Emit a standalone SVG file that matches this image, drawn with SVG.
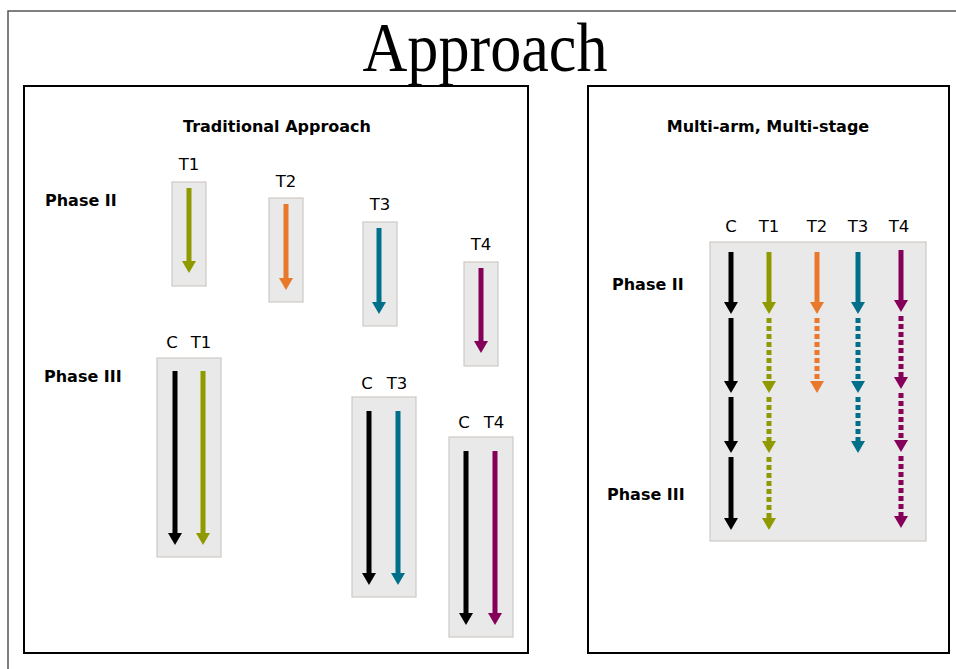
<svg xmlns="http://www.w3.org/2000/svg" width="956" height="669" viewBox="0 0 956 669">
<style>
.frame{fill:none;stroke:#555;stroke-width:1.5}
.panel{fill:#fff;stroke:#000;stroke-width:2}
.box{fill:#e9e9e9;stroke:#cdc8c4;stroke-width:1.2}
.title{font-family:"Liberation Serif",serif;font-size:70px;fill:#000}
.hd{font-family:"DejaVu Sans",sans-serif;font-weight:bold;font-size:16px;fill:#000}
.lbl{font-family:"DejaVu Sans",sans-serif;font-size:16.5px;fill:#000}
.sol{stroke-width:5;fill:none}
.dot{stroke-width:5;fill:none;stroke-dasharray:5 3}
.k{stroke:#000}.o{stroke:#8f9a00}.r{stroke:#e8782a}.t{stroke:#00708a}.p{stroke:#850058}
</style>
<defs>
<marker id="mk" markerUnits="userSpaceOnUse" markerWidth="13" markerHeight="14" refX="0" refY="7" orient="auto"><path d="M0,0L12,7L0,14z" fill="#000"/></marker>
<marker id="mo" markerUnits="userSpaceOnUse" markerWidth="13" markerHeight="14" refX="0" refY="7" orient="auto"><path d="M0,0L12,7L0,14z" fill="#8f9a00"/></marker>
<marker id="mr" markerUnits="userSpaceOnUse" markerWidth="13" markerHeight="14" refX="0" refY="7" orient="auto"><path d="M0,0L12,7L0,14z" fill="#e8782a"/></marker>
<marker id="mt" markerUnits="userSpaceOnUse" markerWidth="13" markerHeight="14" refX="0" refY="7" orient="auto"><path d="M0,0L12,7L0,14z" fill="#00708a"/></marker>
<marker id="mp" markerUnits="userSpaceOnUse" markerWidth="13" markerHeight="14" refX="0" refY="7" orient="auto"><path d="M0,0L12,7L0,14z" fill="#850058"/></marker>
</defs>
<rect width="956" height="669" fill="#fff"/>
<rect class="frame" x="8" y="11" width="970" height="680"/>
<text class="title" x="485" y="71" text-anchor="middle" textLength="245" lengthAdjust="spacingAndGlyphs">Approach</text>

<g id="traditional">
<rect class="panel" x="24" y="86" width="504" height="567"/>
<text class="hd" x="277" y="132" text-anchor="middle">Traditional Approach</text>
<text class="hd" x="45" y="206">Phase II</text>
<text class="hd" x="44" y="382">Phase III</text>
</g>

<g id="trad-t1">
<rect class="box" x="172" y="182" width="34" height="104"/>
<text class="lbl" x="189" y="170" text-anchor="middle">T1</text>
</g>
<g id="trad-t2">
<rect class="box" x="269" y="198" width="34" height="104"/>
<text class="lbl" x="286" y="187" text-anchor="middle">T2</text>
</g>
<g id="trad-t3">
<rect class="box" x="363" y="222" width="34" height="104"/>
<text class="lbl" x="380" y="210" text-anchor="middle">T3</text>
</g>
<g id="trad-t4">
<rect class="box" x="464" y="262" width="34" height="104"/>
<text class="lbl" x="481" y="250" text-anchor="middle">T4</text>
</g>
<g id="trad-ct1">
<rect class="box" x="157" y="358" width="64" height="199"/>
<text class="lbl" x="172" y="348" text-anchor="middle">C</text>
<text class="lbl" x="201" y="348" text-anchor="middle">T1</text>
</g>
<g id="trad-ct3">
<rect class="box" x="352" y="397" width="64" height="200"/>
<text class="lbl" x="367" y="389" text-anchor="middle">C</text>
<text class="lbl" x="397" y="389" text-anchor="middle">T3</text>
</g>
<g id="trad-ct4">
<rect class="box" x="449" y="437" width="64" height="200"/>
<text class="lbl" x="464" y="428" text-anchor="middle">C</text>
<text class="lbl" x="494" y="428" text-anchor="middle">T4</text>
</g>

<g id="mams">
<rect class="panel" x="588" y="86" width="361" height="567"/>
<text class="hd" x="768" y="132" text-anchor="middle">Multi-arm, Multi-stage</text>
<text class="hd" x="612" y="290">Phase II</text>
<text class="hd" x="607" y="500">Phase III</text>
</g>
<g id="mams-grid">
<rect class="box" x="710" y="242" width="216" height="299"/>
<text class="lbl" x="731" y="232" text-anchor="middle">C</text>
<text class="lbl" x="769" y="232" text-anchor="middle">T1</text>
<text class="lbl" x="817" y="232" text-anchor="middle">T2</text>
<text class="lbl" x="858" y="232" text-anchor="middle">T3</text>
<text class="lbl" x="899" y="232" text-anchor="middle">T4</text>
</g>

<g id="connectors">
<line class="sol o" x1="189" y1="188" x2="189" y2="261" marker-end="url(#mo)"/>
<line class="sol r" x1="286" y1="204" x2="286" y2="278" marker-end="url(#mr)"/>
<line class="sol t" x1="379" y1="228" x2="379" y2="302" marker-end="url(#mt)"/>
<line class="sol p" x1="481" y1="268" x2="481" y2="341" marker-end="url(#mp)"/>

<line class="sol k" x1="175" y1="371" x2="175" y2="533" marker-end="url(#mk)"/>
<line class="sol o" x1="203" y1="371" x2="203" y2="533" marker-end="url(#mo)"/>
<line class="sol k" x1="369" y1="411" x2="369" y2="573" marker-end="url(#mk)"/>
<line class="sol t" x1="398" y1="411" x2="398" y2="573" marker-end="url(#mt)"/>
<line class="sol k" x1="466" y1="451" x2="466" y2="613" marker-end="url(#mk)"/>
<line class="sol p" x1="495" y1="451" x2="495" y2="613" marker-end="url(#mp)"/>

<line class="sol k" x1="731" y1="252" x2="731" y2="302" marker-end="url(#mk)"/>
<line class="sol k" x1="731" y1="318" x2="731" y2="381" marker-end="url(#mk)"/>
<line class="sol k" x1="731" y1="397" x2="731" y2="441" marker-end="url(#mk)"/>
<line class="sol k" x1="731" y1="457" x2="731" y2="518" marker-end="url(#mk)"/>

<line class="sol o" x1="769" y1="252" x2="769" y2="302" marker-end="url(#mo)"/>
<line class="dot o" x1="769" y1="318" x2="769" y2="381" marker-end="url(#mo)"/>
<line class="dot o" x1="769" y1="397" x2="769" y2="441" marker-end="url(#mo)"/>
<line class="dot o" x1="769" y1="457" x2="769" y2="518" marker-end="url(#mo)"/>

<line class="sol r" x1="817" y1="252" x2="817" y2="302" marker-end="url(#mr)"/>
<line class="dot r" x1="817" y1="318" x2="817" y2="381" marker-end="url(#mr)"/>

<line class="sol t" x1="858" y1="252" x2="858" y2="302" marker-end="url(#mt)"/>
<line class="dot t" x1="858" y1="318" x2="858" y2="381" marker-end="url(#mt)"/>
<line class="dot t" x1="858" y1="397" x2="858" y2="441" marker-end="url(#mt)"/>

<line class="sol p" x1="901" y1="250" x2="901" y2="300" marker-end="url(#mp)"/>
<line class="dot p" x1="901" y1="316" x2="901" y2="377" marker-end="url(#mp)"/>
<line class="dot p" x1="901" y1="393" x2="901" y2="440" marker-end="url(#mp)"/>
<line class="dot p" x1="901" y1="456" x2="901" y2="516" marker-end="url(#mp)"/>
</g>
</svg>
